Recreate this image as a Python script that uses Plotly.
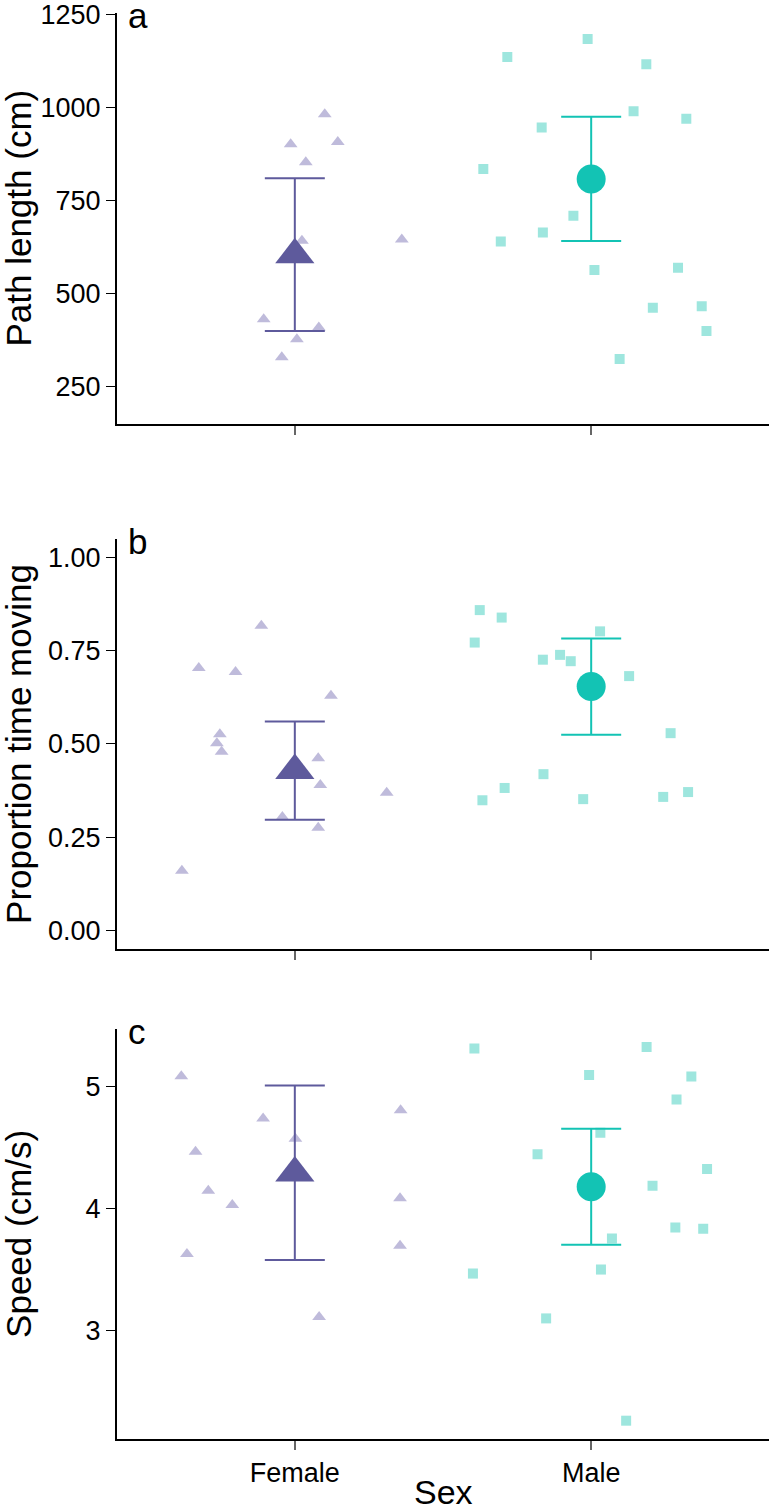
import plotly.graph_objects as go
from plotly.subplots import make_subplots

# Individual observations (x = jittered position around Female=1 / Male=2)
a_female_x = [1.101, 0.986, 1.145, 1.037, 1.024, 0.980, 1.361, 0.895, 1.081, 1.007, 0.956]
a_female_y = [983, 902, 908, 854, 643, 595, 646, 432, 410, 378, 330]
a_male_x = [1.988, 1.717, 2.186, 2.143, 2.321, 1.833, 1.636, 1.940, 1.837, 1.695, 2.011, 2.293, 2.208, 2.373, 2.389, 2.096]
a_male_y = [1185, 1137, 1117, 991, 971, 947, 836, 710, 665, 641, 564, 570, 463, 467, 400, 325]

b_female_x = [0.887, 0.676, 0.800, 1.122, 0.747, 0.737, 0.753, 1.079, 1.086, 1.310, 0.958, 1.079, 0.619]
b_female_y = [0.817, 0.704, 0.693, 0.629, 0.526, 0.502, 0.479, 0.462, 0.390, 0.369, 0.304, 0.275, 0.160]
b_male_x = [1.624, 1.698, 1.607, 2.030, 1.837, 1.895, 1.931, 2.128, 2.268, 1.839, 1.708, 1.633, 1.973, 2.243, 2.327]
b_male_y = [0.859, 0.839, 0.772, 0.802, 0.726, 0.739, 0.722, 0.682, 0.529, 0.419, 0.382, 0.349, 0.352, 0.358, 0.371]

c_female_x = [0.617, 0.893, 1.002, 0.665, 0.708, 0.789, 0.636, 1.082, 1.357, 1.355, 1.355]
c_female_y = [5.082, 4.736, 4.570, 4.464, 4.143, 4.026, 3.626, 3.109, 4.804, 4.083, 3.694]
c_male_x = [1.606, 2.187, 1.993, 2.338, 2.288, 2.031, 1.819, 2.391, 2.207, 2.284, 2.378, 2.070, 2.033, 1.601, 1.848, 2.118]
c_male_y = [5.310, 5.321, 5.092, 5.079, 4.891, 4.619, 4.442, 4.322, 4.184, 3.843, 3.833, 3.753, 3.498, 3.465, 3.098, 2.260]

# Group means with interval bounds (Female, Male)
a_mean = [605, 809]
a_low = [400, 642]
a_high = [811, 976]
b_mean = [0.429, 0.654]
b_low = [0.297, 0.525]
b_high = [0.560, 0.783]
c_mean = [4.29, 4.176]
c_low = [3.577, 3.702]
c_high = [5.006, 4.651]

sexes = ['Female', 'Male']
sex_pos = [1, 2]
y_titles = ['Path length (cm)', 'Proportion time moving', 'Speed (cm/s)']
panel_letters = ['a', 'b', 'c']

purple = '#5e5a9c'
purple_light = '#bfbbdb'
teal = '#13c3b4'
teal_light = '#9ee6de'
FONT = 'Liberation Sans, Arial, Helvetica, sans-serif'

fig = make_subplots(rows=3, cols=1)

panels = [
    (a_female_x, a_female_y, a_male_x, a_male_y, a_mean, a_low, a_high),
    (b_female_x, b_female_y, b_male_x, b_male_y, b_mean, b_low, b_high),
    (c_female_x, c_female_y, c_male_x, c_male_y, c_mean, c_low, c_high),
]

for i, (fx, fy, mx, my, mean, low, high) in enumerate(panels):
    row = i + 1
    fig.add_trace(go.Scatter(x=fx, y=fy, mode='markers',
                             marker=dict(symbol='triangle-up', size=12, color=purple_light)),
                  row=row, col=1)
    fig.add_trace(go.Scatter(x=mx, y=my, mode='markers',
                             marker=dict(symbol='square', size=10, color=teal_light)),
                  row=row, col=1)
    for k, (sym, col, sz) in enumerate([('triangle-up', purple, 34), ('circle', teal, 29)]):
        fig.add_trace(go.Scatter(
            x=[sex_pos[k]], y=[mean[k]], mode='markers',
            marker=dict(symbol=sym, size=sz, color=col),
            error_y=dict(type='data', symmetric=False,
                         array=[high[k] - mean[k]], arrayminus=[mean[k] - low[k]],
                         color=col, thickness=2, width=30)),
            row=row, col=1)

W, H = 769, 1508
left_m, top_m, bot_m = 117, 10, 69
plot_h = H - top_m - bot_m
plot_w = W - left_m
panel_px = [(10, 422), (537, 948), (1028, 1439)]  # top/bottom of each panel, pixels


def to_paper(py):
    return (H - bot_m - py) / plot_h


y_ranges = [[150, 1255], [-0.05, 1.05], [2.11, 5.47]]
y_ticks = [[250, 500, 750, 1000, 1250], [0, 0.25, 0.5, 0.75, 1.0], [3, 4, 5]]
y_ticktext = [['250', '500', '750', '1000', '1250'],
              ['0.00', '0.25', '0.50', '0.75', '1.00'],
              ['3', '4', '5']]

for i in range(3):
    sfx = '' if i == 0 else str(i + 1)
    t, b = panel_px[i]
    fig.layout['yaxis' + sfx].update(
        domain=[to_paper(b), to_paper(t)], range=y_ranges[i],
        tickvals=y_ticks[i], ticktext=y_ticktext[i], ticklabeloverflow='allow',
        showline=True, linecolor='black', linewidth=2,
        ticks='outside', ticklen=9, tickwidth=1, tickcolor='black',
        showgrid=False, zeroline=False,
        tickfont=dict(family=FONT, size=27, color='black'))
    fig.layout['xaxis' + sfx].update(
        range=[0.4, 2.6], tickvals=sex_pos, ticktext=sexes,
        showticklabels=(i == 2),
        showline=True, linecolor='black', linewidth=2,
        ticks='outside', ticklen=9, tickwidth=1.5, tickcolor='#666666',
        showgrid=False, zeroline=False,
        tickfont=dict(family=FONT, size=27, color='black'))
    fig.add_annotation(text=y_titles[i], textangle=-90, xref='paper', yref='paper',
                       x=(19 - left_m) / plot_w, y=to_paper((t + b) / 2),
                       xanchor='center', yanchor='middle', showarrow=False,
                       font=dict(family=FONT, size=35, color='black'))
    fig.add_annotation(text=panel_letters[i], xref='paper', yref='paper',
                       x=(126 - left_m) / plot_w, y=to_paper(t + 3),
                       xanchor='left', yanchor='middle', showarrow=False,
                       font=dict(family=FONT, size=35, color='black'))

fig.add_annotation(text='Sex', xref='paper', yref='paper', x=0.5, y=to_paper(1492),
                   xanchor='center', yanchor='middle', showarrow=False,
                   font=dict(family=FONT, size=34, color='black'))

fig.update_layout(
    width=W, height=H,
    margin=dict(l=left_m, r=0, t=top_m, b=bot_m),
    plot_bgcolor='white', paper_bgcolor='white',
    showlegend=False,
)

# drop the default 8px page margin so the figure sits at the window corner
fig.write_html('out.html', config={'displayModeBar': False},
               post_script="document.body.style.margin = '0px';")
